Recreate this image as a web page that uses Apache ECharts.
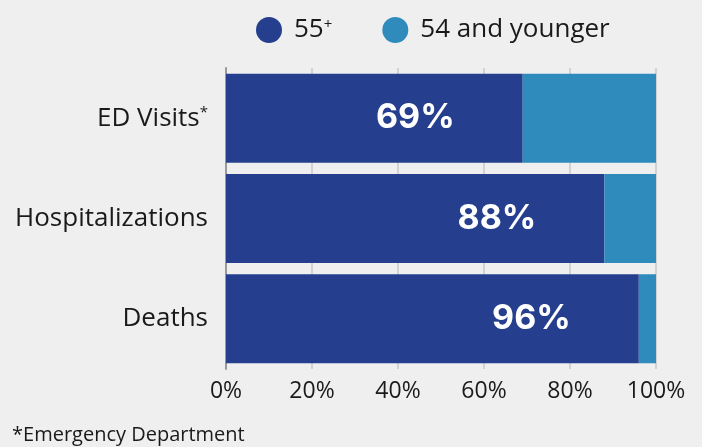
<!DOCTYPE html>
<html>
<head>
<meta charset="utf-8">
<script src="https://cdn.jsdelivr.net/npm/echarts@6/dist/echarts.min.js"></script>
<style>
  html, body { margin: 0; padding: 0; background: #efefef; }
  #chart { width: 702px; height: 447px; }
</style>
</head>
<body>
<div id="chart"></div>
<script>
var categories = ["ED Visits", "Hospitalizations", "Deaths"];
var older = [69, 88, 96];
var younger = [31, 12, 4];
var xTicks = [0, 20, 40, 60, 80, 100];

var myChart = echarts.init(document.getElementById("chart"));
var font = "Open Sans";

myChart.setOption({
  backgroundColor: "#efefef",
  animation: false,
  legend: {
    left: 251,
    top: 12,
    icon: "circle",
    itemWidth: 26,
    itemHeight: 26,
    itemGap: 50,
    textStyle: {
      fontFamily: font,
      fontSize: 26,
      color: "#1a1a1a",
      padding: [0, 0, 0, 7],
      rich: {
        sup: { fontSize: 15, verticalAlign: "top", padding: [0, 0, 11, 0], fontFamily: font, color: "#1a1a1a" }
      }
    },
    formatter: function (name) {
      return name === "55+" ? "55{sup|+}" : name;
    },
    data: ["55+", "54 and younger"]
  },
  grid: {
    left: 226,
    right: 46,
    top: 68,
    bottom: 78
  },
  xAxis: {
    type: "value",
    min: 0,
    max: 100,
    interval: 20,
    axisLabel: {
      formatter: "{value}%",
      fontFamily: font,
      fontSize: 23,
      color: "#1a1a1a",
      margin: 11
    },
    axisLine: { show: false },
    axisTick: { show: false },
    splitLine: {
      lineStyle: { color: "#c8c8c8", width: 1.5 }
    }
  },
  yAxis: {
    type: "category",
    inverse: true,
    data: categories,
    axisLine: {
      show: true,
      lineStyle: { color: "#999999", width: 2 }
    },
    axisTick: { show: false },
    axisLabel: {
      fontFamily: font,
      fontSize: 26,
      color: "#1a1a1a",
      margin: 18,
      formatter: function (v) {
        return v === "ED Visits" ? "ED Visits{sup|*}" : v;
      },
      rich: {
        sup: { fontSize: 15, verticalAlign: "top", padding: [0, 0, 11, 0], fontFamily: font, color: "#1a1a1a" }
      }
    }
  },
  series: [
    {
      name: "55+",
      type: "bar",
      stack: "total",
      barWidth: 89,
      data: older,
      itemStyle: { color: "#253f8e" },
      label: {
        show: true,
        position: "insideRight",
        distance: 68,
        formatter: "{c}%",
        fontFamily: "Inter",
        fontWeight: "bold",
        fontSize: 34,
        color: "#ffffff"
      }
    },
    {
      name: "54 and younger",
      type: "bar",
      stack: "total",
      barWidth: 89,
      data: younger,
      itemStyle: { color: "#2e8bbc" }
    }
  ],
  graphic: [
    {
      type: "text",
      left: 12,
      top: 425,
      style: {
        text: "*Emergency Department",
        fontFamily: font,
        fontSize: 20,
        fill: "#1a1a1a"
      }
    }
  ]
});
</script>
</body>
</html>
